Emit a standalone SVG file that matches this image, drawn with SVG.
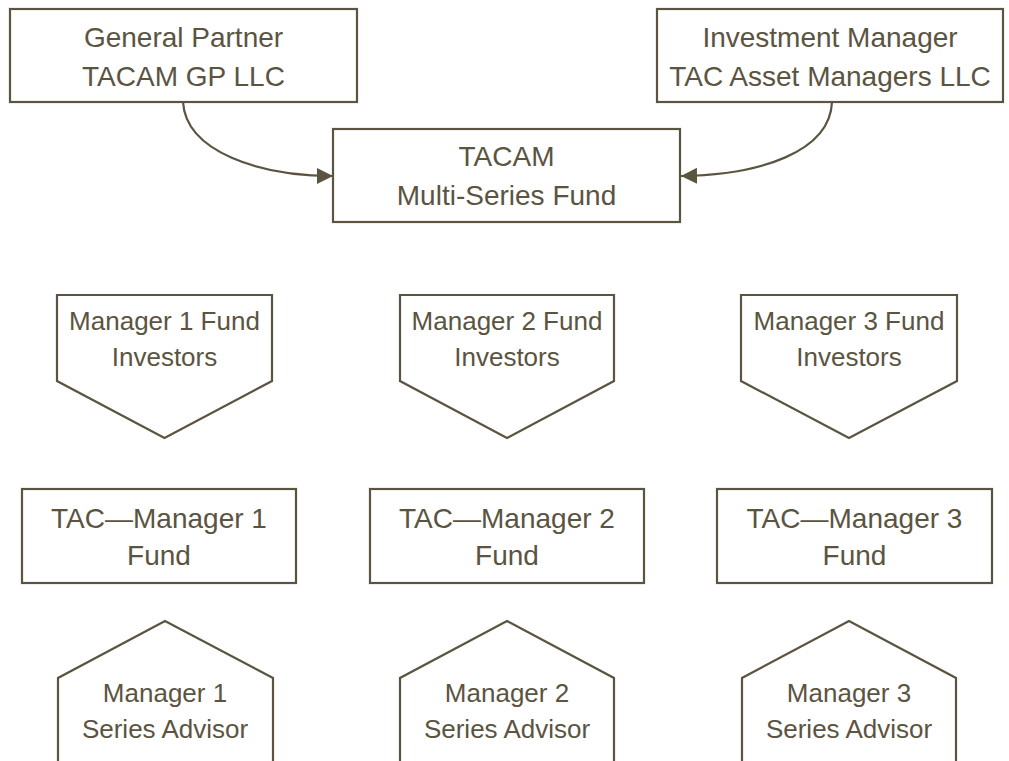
<svg xmlns="http://www.w3.org/2000/svg" width="1009" height="761" viewBox="0 0 1009 761">
<style>
.b{fill:#ffffff;stroke:#5b5441;stroke-width:2.2}
.c{fill:none;stroke:#5b5441;stroke-width:2.2}
.t{font-family:"Liberation Sans",Arial,sans-serif;fill:#5b5441;text-anchor:middle}
.l{font-size:28px}
.m{font-size:26px}
</style>
<defs>
<marker id="ah" markerUnits="userSpaceOnUse" markerWidth="16" markerHeight="16" viewBox="0 0 16 16" refX="16" refY="8" orient="auto">
<path d="M0,0 L16,8 L0,16 Z" fill="#5b5441"/>
</marker>
</defs>
<rect width="1009" height="761" fill="#ffffff"/>
<g id="connectors">
<path class="c" d="M183,102 C186,152 260,176 333,176" marker-end="url(#ah)"/>
<path class="c" d="M832,102 C830,152 760,175 681,176" marker-end="url(#ah)"/>
</g>
<g id="general-partner">
<rect class="b" x="10" y="9" width="347" height="93"/>
<text class="t l" x="183.5" y="47">General Partner</text>
<text class="t l" x="183.5" y="86">TACAM GP LLC</text>
</g>
<g id="investment-manager">
<rect class="b" x="657" y="9" width="346" height="93"/>
<text class="t l" x="830" y="47">Investment Manager</text>
<text class="t l" x="830" y="86">TAC Asset Managers LLC</text>
</g>
<g id="tacam-fund">
<rect class="b" x="333" y="129" width="347" height="93"/>
<text class="t l" x="506.5" y="166">TACAM</text>
<text class="t l" x="506.5" y="205">Multi-Series Fund</text>
</g>
<g id="investors-1">
<polygon class="b" points="57,295 272,295 272,381 164.5,438 57,381"/>
<text class="t m" x="164.5" y="330">Manager 1 Fund</text>
<text class="t m" x="164.5" y="366">Investors</text>
</g>
<g id="investors-2">
<polygon class="b" points="400,295 614,295 614,381 507,438 400,381"/>
<text class="t m" x="507" y="330">Manager 2 Fund</text>
<text class="t m" x="507" y="366">Investors</text>
</g>
<g id="investors-3">
<polygon class="b" points="741,295 957,295 957,381 849,438 741,381"/>
<text class="t m" x="849" y="330">Manager 3 Fund</text>
<text class="t m" x="849" y="366">Investors</text>
</g>
<g id="fund-1">
<rect class="b" x="22" y="489" width="274" height="94"/>
<text class="t l" x="159" y="528">TAC—Manager 1</text>
<text class="t l" x="159" y="565">Fund</text>
</g>
<g id="fund-2">
<rect class="b" x="370" y="489" width="274" height="94"/>
<text class="t l" x="507" y="528">TAC—Manager 2</text>
<text class="t l" x="507" y="565">Fund</text>
</g>
<g id="fund-3">
<rect class="b" x="717" y="489" width="275" height="94"/>
<text class="t l" x="854.5" y="528">TAC—Manager 3</text>
<text class="t l" x="854.5" y="565">Fund</text>
</g>
<g id="advisor-1">
<polygon class="b" points="58,775 58,678 165,621 273,678 273,775"/>
<text class="t m" x="165" y="702">Manager 1</text>
<text class="t m" x="165" y="738">Series Advisor</text>
</g>
<g id="advisor-2">
<polygon class="b" points="400,775 400,678 507,621 614,678 614,775"/>
<text class="t m" x="507" y="702">Manager 2</text>
<text class="t m" x="507" y="738">Series Advisor</text>
</g>
<g id="advisor-3">
<polygon class="b" points="742,775 742,678 849,621 956,678 956,775"/>
<text class="t m" x="849" y="702">Manager 3</text>
<text class="t m" x="849" y="738">Series Advisor</text>
</g>
</svg>
